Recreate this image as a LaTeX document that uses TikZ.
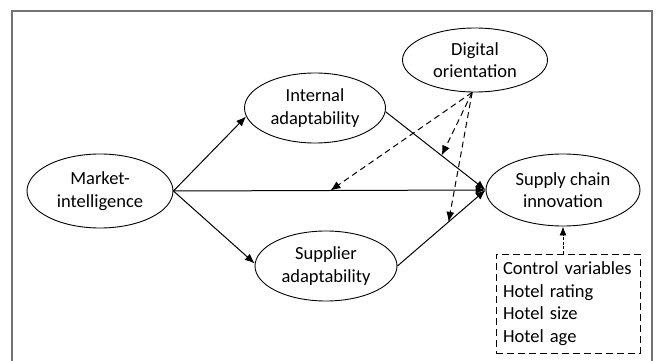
\documentclass[tikz,border=0pt]{standalone}
\usepackage{fontspec}
\setmainfont{Carlito}
\usetikzlibrary{shapes.geometric,arrows.meta,calc}
\begin{document}
\begin{tikzpicture}[x=1pt,y=-1pt,
  var/.style={ellipse,draw,line width=0.9pt,inner sep=0pt,align=center,
    font=\fontsize{18.5}{22.5}\selectfont},
  arr/.style={line width=1pt,-{Latex[length=10pt,width=8pt]}},
  darr/.style={line width=1pt,dash pattern=on 6pt off 4pt,-{Latex[length=10pt,width=8pt]}},
  ctrl/.style={draw,line width=1pt,dash pattern=on 7pt off 4pt,align=left,
    minimum width=144pt,minimum height=99pt,text width=130pt,inner sep=0pt,
    font=\fontsize{18.5}{22.5}\selectfont}]
\useasboundingbox (0,0) rectangle (657,361);
\draw[line width=1.4pt,draw=black!55] (12,370) -- (12,11) -- (652,11) -- (652,370);
\node[var,minimum width=146pt,minimum height=74pt] (M) at (100,191) {Market-\\intelligence};
\node[var,minimum width=141pt,minimum height=70pt] (I) at (315,108) {Internal\\adaptability};
\node[var,minimum width=142pt,minimum height=70pt] (S) at (326,266) {Supplier\\adaptability};
\node[var,minimum width=145pt,minimum height=64pt] (D) at (475,60) {Digital\\orientation};
\node[var,minimum width=154pt,minimum height=72pt] (SC) at (563,190) {Supply chain\\innovation};
\node[ctrl] (C) at (568,303.5) {Control variables\\Hotel rating\\Hotel size\\Hotel age};
\draw[arr] (M.east) -- (I.187);
\draw[arr] (M.east) -- (S.178);
\draw[arr] (M.east) -- (SC.west);
\draw[arr] (I.-3) -- (SC.west);
\draw[arr] (S.east) -- (SC.west);
\coordinate (d0) at (D.265);
\coordinate (t1) at ($(M.east)!0.503!(SC.west)$);
\coordinate (t2) at ($(I.-3)!0.56!(SC.west)$);
\coordinate (t3) at ($(S.east)!0.58!(SC.west)$);
\draw[darr] (d0) -- (t1);
\draw[darr] (d0) -- (t2);
\draw[darr] (d0) -- (t3);
\coordinate (c0) at (C.north -| SC.south);
\draw[line width=0.9pt,dash pattern=on 3pt off 1.5pt,-{Latex[length=9pt,width=7pt]}] (c0) -- (SC.south);
\end{tikzpicture}
\end{document}
